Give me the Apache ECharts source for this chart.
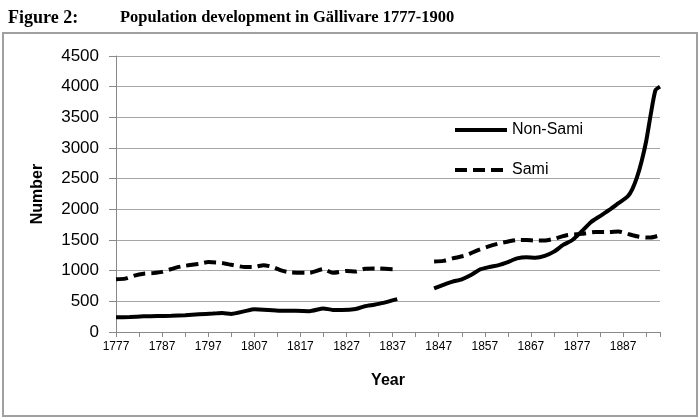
<!DOCTYPE html>
<html>
<head>
<meta charset="utf-8">
<script src="https://cdn.jsdelivr.net/npm/echarts@6/dist/echarts.min.js"></script>
<style>
  html, body { margin: 0; padding: 0; background: #fff; }
  #chart { width: 700px; height: 420px; }
</style>
</head>
<body>
<div id="chart"></div>
<script>
// values; null marks the 1838-1846 gap
const nonSamiYears = [1777, 1780, 1783, 1786, 1789, 1792, 1795, 1798, 1800, 1802, 1805, 1807, 1810, 1813, 1816, 1819, 1822, 1824, 1826, 1829, 1831, 1833, 1835, 1838, 1842,
  1846, 1848, 1850, 1852, 1854, 1856, 1858, 1860, 1862, 1864, 1866, 1868, 1870, 1872, 1874, 1876, 1878, 1880, 1882, 1884, 1886, 1888, 1889, 1890, 1891, 1892, 1893, 1894, 1895]
const nonSamiValues = [240, 245, 255, 260, 265, 275, 290, 300, 310, 295, 340, 370, 360, 345, 345, 340, 385, 360, 360, 375, 420, 445, 475, 535, null,
  710, 770, 820, 860, 930, 1020, 1060, 1090, 1140, 1200, 1220, 1210, 1240, 1310, 1420, 1500, 1640, 1790, 1890, 1990, 2100, 2210, 2330, 2520, 2780, 3110, 3550, 3940, 4000]

const samiYears = [1777, 1779, 1781, 1783, 1785, 1787, 1790, 1792, 1795, 1797, 1800, 1802, 1805, 1807, 1809, 1811, 1813, 1815, 1819, 1822, 1824, 1827, 1829, 1831, 1834, 1837, 1842,
  1846, 1848, 1850, 1853, 1855, 1858, 1861, 1864, 1866, 1868, 1870, 1872, 1875, 1878, 1881, 1884, 1886, 1888, 1890, 1892, 1893, 1895]
const samiValues = [860, 870, 920, 950, 960, 980, 1050, 1080, 1110, 1140, 1125, 1095, 1060, 1060, 1090, 1060, 1000, 970, 965, 1025, 965, 995, 985, 1030, 1035, 1025, null,
  1150, 1160, 1200, 1250, 1320, 1400, 1460, 1500, 1500, 1490, 1490, 1520, 1580, 1600, 1630, 1630, 1640, 1600, 1560, 1540, 1540, 1580]

const pairs = (xs, ys) => xs.map((x, i) => [x, ys[i]])

const chart = echarts.init(document.getElementById('chart'))
const font = 'Liberation Sans'

chart.setOption({
  animation: false,
  backgroundColor: '#fff',
  title: [
    { text: 'Figure 2:', left: 3, top: 4, textStyle: { fontFamily: 'Liberation Serif', fontWeight: 'bold', fontSize: 18, color: '#000' } },
    { text: 'Population development in Gällivare 1777-1900', left: 115, top: 4, textStyle: { fontFamily: 'Liberation Serif', fontWeight: 'bold', fontSize: 16.5, color: '#000' } }
  ],
  graphic: [
    { type: 'rect', shape: { x: 3, y: 33, width: 694, height: 383 }, style: { fill: 'none', stroke: '#a0a0a0', lineWidth: 2 }, silent: true }
  ],
  grid: { left: 116, right: 40, top: 56, bottom: 88 },
  legend: {
    orient: 'vertical',
    left: 448,
    top: 117,
    itemWidth: 52,
    itemHeight: 14,
    itemGap: 24,
    itemStyle: { opacity: 0 },
    lineStyle: { width: 4 },
    textStyle: { fontFamily: font, fontSize: 16, color: '#000' },
    data: ['Non-Sami', 'Sami']
  },
  xAxis: {
    type: 'value',
    min: 1777,
    max: 1895,
    interval: 5,
    name: 'Year',
    nameLocation: 'middle',
    nameGap: 41,
    nameTextStyle: { fontFamily: font, fontWeight: 'bold', fontSize: 16, color: '#000' },
    splitLine: { show: false },
    axisLine: { lineStyle: { color: '#888' } },
    axisTick: { length: 5, lineStyle: { color: '#888' } },
    axisLabel: {
      fontFamily: font, fontSize: 12, color: '#000', margin: 9,
      formatter: v => ((v - 1777) % 10 === 0 && v < 1895) ? String(v) : ''
    }
  },
  yAxis: {
    type: 'value',
    min: 0,
    max: 4500,
    interval: 500,
    name: 'Number',
    nameLocation: 'middle',
    nameGap: 70,
    nameTextStyle: { fontFamily: font, fontWeight: 'bold', fontSize: 16, color: '#000' },
    axisLine: { show: true, lineStyle: { color: '#888' } },
    axisTick: { show: true, length: 7, lineStyle: { color: '#888' } },
    splitLine: { lineStyle: { color: '#a6a6a6' } },
    axisLabel: { fontFamily: font, fontSize: 17, color: '#000', margin: 17, formatter: v => String(v) }
  },
  series: [
    {
      name: 'Non-Sami',
      type: 'line',
      symbol: 'none',
      connectNulls: false,
      smooth: 0.2,
      lineStyle: { color: '#000', width: 4 },
      itemStyle: { color: '#000' },
      data: pairs(nonSamiYears, nonSamiValues)
    },
    {
      name: 'Sami',
      type: 'line',
      symbol: 'none',
      connectNulls: false,
      smooth: 0.2,
      lineStyle: { color: '#000', width: 4, type: [12, 6], cap: 'butt' },
      itemStyle: { color: '#000' },
      data: pairs(samiYears, samiValues)
    }
  ]
})
</script>
</body>
</html>
